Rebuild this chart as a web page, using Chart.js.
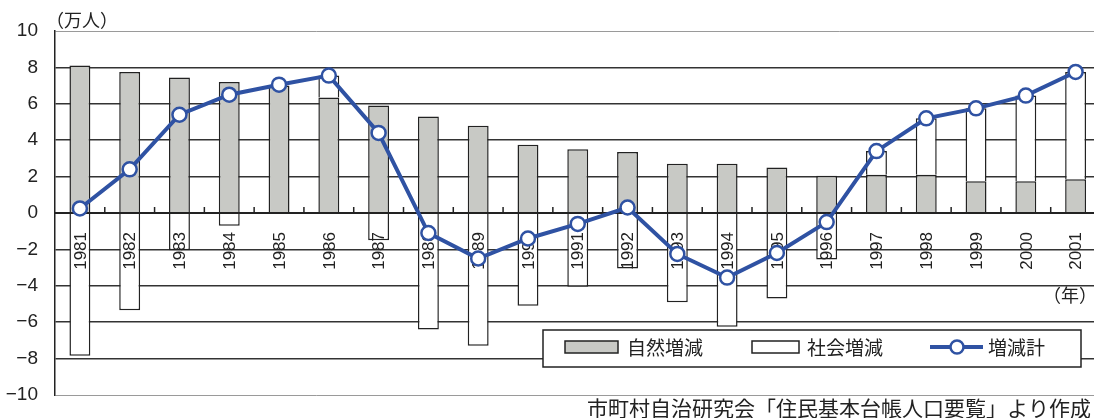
<!DOCTYPE html>
<html>
<head>
<meta charset="utf-8">
<script src="https://cdn.jsdelivr.net/npm/chart.js@4/dist/chart.umd.min.js"></script>
<style>
  html, body { margin: 0; padding: 0; background: #fff; overflow: hidden; }
  #wrap { width: 1110px; height: 418px; }
</style>
</head>
<body>
<div id="wrap"><canvas id="popChart" width="1110" height="418"></canvas></div>
<script>
// 年次
const years = ['1981', '1982', '1983', '1984', '1985', '1986', '1987', '1988', '1989', '1990', '1991',
  '1992', '1993', '1994', '1995', '1996', '1997', '1998', '1999', '2000', '2001'];
// 自然増減（万人）
const naturalChange = [8.1, 7.75, 7.45, 7.2, 7.0, 6.35, 5.9, 5.3, 4.8, 3.75, 3.5,
  3.35, 2.7, 2.7, 2.5, 2.05, 2.1, 2.1, 1.75, 1.75, 1.85];
// 社会増減（万人）
const socialChange = [-7.85, -5.35, -2.05, -0.7, 0, 1.2, -1.5, -6.4, -7.3, -5.1, -4.05,
  -3.05, -4.9, -6.25, -4.7, -2.55, 1.3, 3.1, 4.0, 4.7, 5.9];
// 増減計（万人）
const totalChange = [0.25, 2.4, 5.4, 6.5, 7.05, 7.55, 4.4, -1.1, -2.5, -1.4, -0.6,
  0.3, -2.25, -3.55, -2.2, -0.5, 3.4, 5.2, 5.75, 6.45, 7.75];
// 縦軸目盛
const yTicks = [-10, -8, -6, -4, -2, 0, 2, 4, 6, 8, 10];

const GRAY = '#c8c9c5';
const INK = '#222';
const BLUE = '#2f52a3';
const NUM_FONT = '"Liberation Sans", Arial, sans-serif';
const JP_FONT = '"Noto Sans CJK JP", sans-serif';

// 年ラベル・目盛・ゼロ線（折れ線の下に描く）
const yearLabels = {
  id: 'yearLabels',
  beforeDatasetDraw(chart, args) {
    if (args.index !== 2) return;
    const { ctx, scales: { x, y }, chartArea } = chart;
    const y0 = y.getPixelForValue(0);
    const step = x.getPixelForValue(1) - x.getPixelForValue(0);
    ctx.save();
    ctx.strokeStyle = INK;
    ctx.lineWidth = 2;
    ctx.beginPath();
    ctx.moveTo(chartArea.left, y0);
    ctx.lineTo(chartArea.right, y0);
    ctx.stroke();
    ctx.lineWidth = 1.5;
    for (let i = 0; i < years.length - 1; i++) {
      const px = x.getPixelForValue(i) + step / 2;
      ctx.beginPath();
      ctx.moveTo(px, y0);
      ctx.lineTo(px, y0 - 6);
      ctx.stroke();
    }
    ctx.fillStyle = INK;
    ctx.font = '17px ' + NUM_FONT;
    ctx.textAlign = 'right';
    ctx.textBaseline = 'middle';
    years.forEach((yr, i) => {
      ctx.save();
      ctx.translate(x.getPixelForValue(i), y0 + 19);
      ctx.rotate(-Math.PI / 2);
      ctx.fillText(yr, 0, 1);
      ctx.restore();
    });
    ctx.restore();
  }
};

// 凡例・単位・出典
const annotations = {
  id: 'annotations',
  afterDraw(chart) {
    const { ctx } = chart;
    const ds = chart.data.datasets;
    ctx.save();
    ctx.fillStyle = INK;
    ctx.textBaseline = 'middle';
    ctx.textAlign = 'left';
    ctx.font = '18px ' + JP_FONT;
    ctx.fillText('（万人）', 46, 20);
    ctx.fillText('（年）', 1043, 295);

    // 凡例枠
    ctx.fillStyle = '#fff';
    ctx.fillRect(543, 330, 538, 37);
    ctx.strokeStyle = INK;
    ctx.lineWidth = 1.5;
    ctx.strokeRect(543, 330, 538, 37);

    ctx.fillStyle = ds[0].backgroundColor;
    ctx.fillRect(565, 341, 53, 12);
    ctx.strokeRect(565, 341, 53, 12);
    ctx.fillStyle = ds[1].backgroundColor;
    ctx.fillRect(752, 341, 47, 12);
    ctx.strokeRect(752, 341, 47, 12);

    ctx.strokeStyle = ds[2].borderColor;
    ctx.lineWidth = 4;
    ctx.beginPath();
    ctx.moveTo(930, 347);
    ctx.lineTo(983, 347);
    ctx.stroke();
    ctx.beginPath();
    ctx.arc(957, 347, 6.5, 0, Math.PI * 2);
    ctx.fillStyle = '#fff';
    ctx.fill();
    ctx.lineWidth = 2.5;
    ctx.stroke();

    ctx.fillStyle = INK;
    ctx.font = '19px ' + JP_FONT;
    ctx.fillText(ds[0].label, 627, 348);
    ctx.fillText(ds[1].label, 807, 348);
    ctx.fillText(ds[2].label, 988, 348);

    ctx.font = '21px ' + JP_FONT;
    ctx.fillText('市町村自治研究会「住民基本台帳人口要覧」より作成', 587, 408);
    ctx.restore();
  }
};

new Chart(document.getElementById('popChart'), {
  type: 'bar',
  data: {
    labels: years,
    datasets: [
      {
        label: '自然増減',
        data: naturalChange,
        backgroundColor: GRAY,
        borderColor: INK,
        borderWidth: 1.5,
        stack: 'bars',
        order: 1,
        categoryPercentage: 1,
        barPercentage: 0.42
      },
      {
        label: '社会増減',
        data: socialChange,
        backgroundColor: '#fff',
        borderColor: INK,
        borderWidth: 1.5,
        stack: 'bars',
        order: 1,
        categoryPercentage: 1,
        barPercentage: 0.42
      },
      {
        type: 'line',
        label: '増減計',
        data: totalChange,
        borderColor: BLUE,
        borderWidth: 4,
        pointRadius: 7,
        pointBorderWidth: 2.5,
        pointBackgroundColor: '#fff',
        pointBorderColor: BLUE,
        tension: 0,
        stack: 'line',
        order: 0
      }
    ]
  },
  options: {
    responsive: false,
    animation: false,
    layout: { padding: { top: 31, bottom: 23, left: 0, right: 9 } },
    plugins: {
      legend: { display: false },
      tooltip: { enabled: false }
    },
    scales: {
      x: {
        stacked: true,
        display: false
      },
      y: {
        stacked: true,
        min: -10,
        max: 10,
        afterFit(scale) {
          scale.width = 55;
          scale.paddingTop = 0;
          scale.paddingBottom = 0;
        },
        afterBuildTicks(scale) { scale.ticks = yTicks.map(v => ({ value: v })); },
        border: { display: true, color: INK, width: 1.5 },
        grid: {
          drawTicks: false,
          color: ctx => Math.abs(ctx.tick.value) === 10 ? '#9a9a9a' : '#333',
          lineWidth: ctx => Math.abs(ctx.tick.value) === 10 ? 1 : 1.5
        },
        ticks: {
          padding: 17,
          color: INK,
          font: { size: 19, family: NUM_FONT },
          callback: v => String(v).replace('-', '−')
        }
      }
    }
  },
  plugins: [yearLabels, annotations]
});
</script>
</body>
</html>
